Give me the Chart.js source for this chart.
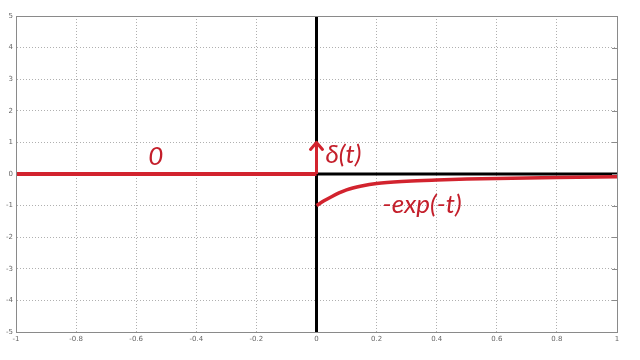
<!DOCTYPE html>
<html><head><meta charset="utf-8">
<script src="https://cdn.jsdelivr.net/npm/chart.js@4.4.1/dist/chart.umd.min.js"></script>
<style>html,body{margin:0;padding:0;background:#fff}#wrap{width:640px;height:360px}</style>
</head><body><div id="wrap"><canvas id="c" width="640" height="360"></canvas></div>
<script>
// Data
const xTicks = [-1,-0.8,-0.6,-0.4,-0.2,0,0.2,0.4,0.6,0.8,1];
const yTicks = [-5,-4,-3,-2,-1,0,1,2,3,4,5];
const zeroX = [-1, 0];
const zeroY = [0, 0];
const expT = [0,0.025,0.05,0.075,0.1,0.15,0.2,0.3,0.4,0.5,0.6,0.8,1.0];
const expV = [-1,-0.85,-0.72,-0.6,-0.5,-0.38,-0.3,-0.23,-0.19,-0.16,-0.14,-0.11,-0.09];
const vAxisX = [0, 0];
const vAxisY = [-5, 5];
const hAxisX = [0, 1];
const hAxisY = [0, 0];
const deltaX = [0, 0];
const deltaY = [0, 1];
const labels = [
  {text:'0', x:-0.56, y:0.3},
  {text:'δ(t)', x:0.03, y:0.35},
  {text:'-exp(-t)', x:0.22, y:-1.22}
];

const pts = (xs, ys) => xs.map((x,i)=>({x, y:ys[i]}));
const RED = '#d2232e';

const boxPlugin = {
  id:'box',
  afterDatasetsDraw(chart){
    const {ctx, chartArea:a, scales} = chart;
    ctx.save();
    ctx.strokeStyle = '#8a8a8a'; ctx.lineWidth = 1;
    ctx.strokeRect(a.left+0.5, a.top+0.5, a.right-a.left, a.bottom-a.top);
    const ys = scales.y;
    yTicks.forEach(v=>{ const p = Math.round(ys.getPixelForValue(v))+0.5;
      ctx.beginPath(); ctx.moveTo(a.right-5,p); ctx.lineTo(a.right,p); ctx.stroke(); });
    const xs = scales.x;
    const tx = xs.getPixelForValue(deltaX[1]), ty = ys.getPixelForValue(deltaY[1]);
    ctx.strokeStyle = RED; ctx.lineWidth = 3; ctx.lineCap='round'; ctx.lineJoin='round';
    ctx.beginPath(); ctx.moveTo(tx-6, ty+7); ctx.lineTo(tx, ty); ctx.lineTo(tx+6, ty+7); ctx.stroke();
    ctx.fillStyle = '#c41f2b';
    ctx.font = 'italic 26px Lato';
    ctx.textBaseline = 'alphabetic';
    labels.forEach(l=>{ ctx.fillText(l.text, xs.getPixelForValue(l.x), ys.getPixelForValue(l.y)); });
    ctx.restore();
  }
};

new Chart(document.getElementById('c'), {
  type:'scatter',
  data:{datasets:[
    {data:pts(vAxisX,vAxisY), showLine:true, borderColor:'#000', borderWidth:3, pointRadius:0, order:3},
    {data:pts(hAxisX,hAxisY), showLine:true, borderColor:'#000', borderWidth:3, pointRadius:0, order:3},
    {data:pts(zeroX,zeroY), showLine:true, borderColor:RED, borderWidth:4, pointRadius:0, order:1},
    {data:pts(expT,expV), showLine:true, borderColor:RED, borderWidth:3.5, pointRadius:0, cubicInterpolationMode:'monotone', order:2},
    {data:pts(deltaX,deltaY), showLine:true, borderColor:RED, borderWidth:3, pointRadius:0, order:1}
  ]},
  options:{
    responsive:false, animation:false, devicePixelRatio:1,
    layout:{padding:{top:16,right:23,left:0,bottom:0}},
    plugins:{legend:{display:false}, tooltip:{enabled:false}},
    scales:{
      x:{type:'linear', min:-1, max:1,
        afterBuildTicks(s){ s.ticks = xTicks.map(v=>({value:v})); },
        afterFit(s){ s.height = 28; },
        grid:{color:'#b0b0b0', lineWidth:1, drawTicks:false},
        border:{color:'#8a8a8a', dash:[1,2]},
        ticks:{color:'#666', font:{size:7, family:'DejaVu Sans'}, padding:3, maxRotation:0,
          callback:(v)=>String(v)}
      },
      y:{type:'linear', min:-5, max:5,
        afterBuildTicks(s){ s.ticks = yTicks.map(v=>({value:v})); },
        afterFit(s){ s.width = 16; },
        grid:{color:'#b0b0b0', lineWidth:1, drawTicks:false},
        border:{color:'#8a8a8a', dash:[1,2]},
        ticks:{color:'#666', font:{size:7, family:'DejaVu Sans'}, padding:3,
          callback:(v)=>String(v)}
      }
    }
  },
  plugins:[boxPlugin]
});
</script></body></html>
